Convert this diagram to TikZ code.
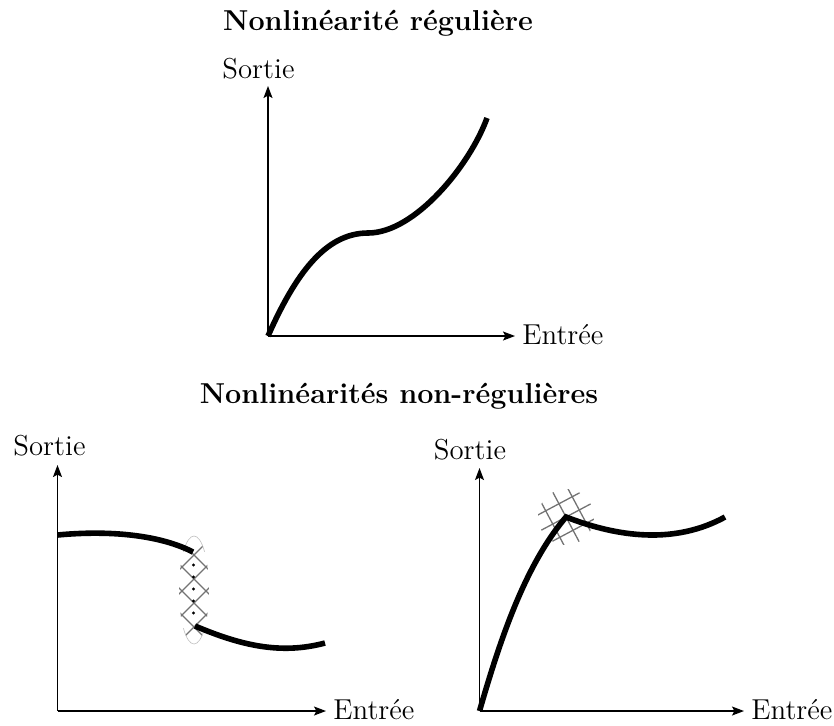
\documentclass[tikz,border=0pt]{standalone}
\usepackage{fontspec}
\usetikzlibrary{arrows.meta}
\begin{document}
\begin{tikzpicture}[x=0.5pt,y=-0.5pt,
  axis/.style={line width=0.6pt,-{Stealth[length=6pt,width=4.5pt,inset=1.2pt]}},
  curve/.style={line width=2.8pt},
  hatch/.style={draw=black!55,line width=0.65pt},
  faint/.style={draw=black!25,line width=0.3pt},
  lbl/.style={font=\Large,inner sep=0pt,anchor=base},
  ttl/.style={font=\Large\bfseries,inner sep=0pt,anchor=base}]
\useasboundingbox (0,0) rectangle (834,725);

% ---------- top: regular nonlinearity ----------
\coordinate (o1) at (268,336);
\coordinate (y1) at (268,86);
\coordinate (x1) at (515,336);
\coordinate (p1) at (368,233);
\coordinate (q1) at (487,118);
\node[ttl] (t1) at (378,30) {Nonlinéarité régulière};
\node[lbl] (s1) at (258.5,78) {Sortie};
\node[lbl,anchor=base west] (e1) at (522,344) {Entrée};
\draw[axis] (o1) -- (y1);
\draw[axis] (o1) -- (x1);
\draw[curve] (o1) .. controls (295,275) and (325,233) .. (p1)
                  .. controls (415,233) and (470,165) .. (q1);

% ---------- titles ----------
\node[ttl] (t2) at (399,403) {Nonlinéarités non-régulières};

% ---------- bottom left: discontinuity ----------
\coordinate (o2) at (57.5,711);
\coordinate (y2) at (57.5,465);
\coordinate (x2) at (326,711);
\coordinate (a2) at (57.5,535);
\coordinate (b2) at (193,552);
\coordinate (c2) at (195,626);
\coordinate (d2) at (325,643);
\coordinate (h2) at (194,590);
\node[lbl] (s2) at (49.5,455) {Sortie};
\node[lbl,anchor=base west] (e2) at (333,719) {Entrée};
\draw[axis] (o2) -- (y2);
\draw[axis] (o2) -- (x2);
\begin{scope}
  \clip (h2) ellipse [x radius=7.5pt, y radius=27pt];
  \foreach \k in {0,...,5} {
    \draw[hatch] (154,{531+24*\k+40}) -- (234,{531+24*\k-40});
    \draw[hatch] (154,{531+24*\k-40}) -- (234,{531+24*\k+40});
  }
\end{scope}
\draw[faint] ([shift={(45:7.5pt and 27pt)}]h2) arc[start angle=45,end angle=135,x radius=7.5pt,y radius=27pt];
\draw[faint] ([shift={(225:7.5pt and 27pt)}]h2) arc[start angle=225,end angle=315,x radius=7.5pt,y radius=27pt];
\foreach \k in {1,...,5} \fill (193.5,{553+12*\k}) circle[radius=0.8pt];
\draw[curve] (a2) .. controls (110,530) and (160,535) .. (b2);
\draw[curve] (c2) .. controls (240,645) and (280,655) .. (d2);

% ---------- bottom right: kink ----------
\coordinate (o3) at (479.5,711);
\coordinate (y3) at (479.5,468);
\coordinate (x3) at (744,711);
\coordinate (k3) at (566,517);
\coordinate (f3) at (725,517);
\node[lbl] (s3) at (470,459) {Sortie};
\node[lbl,anchor=base west] (e3) at (751,719) {Entrée};
\draw[axis] (o3) -- (y3);
\draw[axis] (o3) -- (x3);
\begin{scope}
  \clip (k3) circle[radius=14pt];
  \begin{scope}[shift={(k3)},rotate=28]
    \foreach \d in {-15,0,15} {
      \draw[hatch] (-30,\d) -- (30,\d);
      \draw[hatch] (\d,-30) -- (\d,30);
    }
  \end{scope}
\end{scope}
\draw[curve,line join=miter] (o3) .. controls (500,640) and (525,565) .. (k3)
                  .. controls (600,530) and (665,550) .. (f3);
\end{tikzpicture}
\end{document}
